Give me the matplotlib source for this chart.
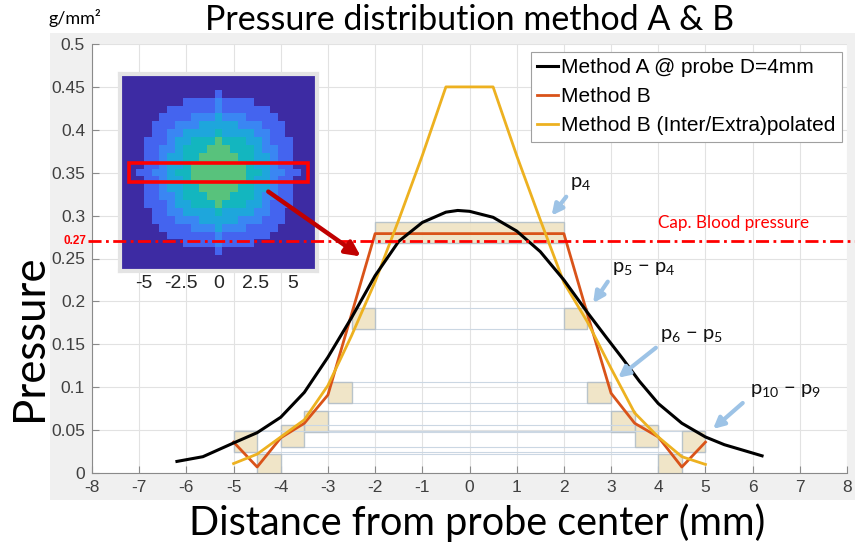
import matplotlib
matplotlib.use('Agg')
import matplotlib.pyplot as plt
from matplotlib.patches import Rectangle
from matplotlib.lines import Line2D
from matplotlib.colors import ListedColormap
import numpy as np

plt.rcParams['axes.unicode_minus'] = False
plt.rcParams['mathtext.fontset'] = 'custom'
plt.rcParams['mathtext.rm'] = 'Lato'
plt.rcParams['mathtext.it'] = 'Lato:italic'

# ---------------- data ----------------
a_x = [-6.2, -5.65, -5, -4.5, -4, -3.5, -3, -2.5, -2, -1.5, -1, -0.5, -0.25, 0,
       0.5, 1, 1.5, 2, 2.5, 2.9, 3.25, 3.6, 4, 4.5, 5, 5.4, 6.2]
a_y = [0.0135, 0.019, 0.035, 0.047, 0.065, 0.094, 0.135, 0.181, 0.23, 0.27, 0.292,
       0.304, 0.306, 0.305, 0.298, 0.282, 0.258, 0.225, 0.187, 0.158, 0.133, 0.107,
       0.081, 0.058, 0.042, 0.033, 0.020]

b_x = [-5, -4.5, -4, -3.5, -3, -2.5, -2, 2, 2.5, 3, 3.5, 4, 4.5, 5]
b_y = [0.036, 0.007, 0.041, 0.058, 0.091, 0.185, 0.279, 0.279, 0.185, 0.093, 0.058,
       0.042, 0.007, 0.036]

bi_x = [-5, -4.5, -4, -3.5, -3, -2.5, -2, -1.5, -1, -0.5, 0.5, 1, 1.5, 2, 2.5,
        3, 3.5, 4, 4.5, 5]
bi_y = [0.011, 0.022, 0.042, 0.062, 0.102, 0.16, 0.223, 0.295, 0.37, 0.45, 0.45,
        0.37, 0.295, 0.222, 0.176, 0.122, 0.07, 0.042, 0.019, 0.010]

ring_r = [2, 2.5, 3, 3.5, 4, 4.5, 5]
ring_p = [0.28, 0.18, 0.094, 0.06, 0.043, 0.01, 0.037]

cap_bp = 0.27

x_ticks = list(range(-8, 9))
y_ticks = [0, 0.05, 0.1, 0.15, 0.2, 0.25, 0.3, 0.35, 0.4, 0.45, 0.5]
y_tick_labels = ['0', '0.05', '0.1', '0.15', '0.2', '0.25', '0.3', '0.35',
                 '0.4', '0.45', '0.5']
inset_ticks = [-5, -2.5, 0, 2.5, 5]
inset_tick_labels = ['-5', '-2.5', '0', '2.5', '5']

inset_rows = [
    "0000000000000000000000000",
    "0000000000000000000000000",
    "0000000000001000000000000",
    "0000000011112111100000000",
    "0000001111112111111000000",
    "0000011112223222111100000",
    "0000111222333332221110000",
    "0000112233334333322110000",
    "0001112334445444332111000",
    "0001122344455544432211000",
    "0001123344555554433211000",
    "0001123345555555433211000",
    "0011223445555555443221100",
    "0001123345555555433211000",
    "0001123344555554433211000",
    "0001122344455544432211000",
    "0001112334445444332111000",
    "0000112233334333322110000",
    "0000111222333332221110000",
    "0000011112223222111100000",
    "0000001111112111111000000",
    "0000000011112111100000000",
    "0000000000001000000000000",
    "0000000000000000000000000",
    "0000000000000000000000000",
]
inset_colors = ['#3d2ba3', '#4464ef', '#3a86f3', '#1ea6dc', '#13b6bf', '#58c27c']

# ---------------- figure ----------------
W, H = 855, 546
fig = plt.figure(figsize=(W / 100, H / 100), dpi=100)
fig.patch.set_facecolor('white')
fig.patches.append(Rectangle((50 / W, (H - 500) / H), (W - 50) / W, (500 - 33) / H,
                             transform=fig.transFigure, facecolor='#f0f0f0',
                             edgecolor='none', zorder=-10))

ax = fig.add_axes([92 / W, 73 / H, 755 / W, 429 / H])
ax.set_facecolor('white')
ax.set_xlim(-8, 8)
ax.set_ylim(0, 0.5)
ax.set_xticks(x_ticks)
ax.set_yticks(y_ticks)
ax.set_yticklabels(y_tick_labels)
ax.grid(True, color='#e2e2e2', lw=0.8, zorder=0)
ax.set_axisbelow(True)
for s in ['top', 'right']:
    ax.spines[s].set_visible(False)
for s in ['left', 'bottom']:
    ax.spines[s].set_color('#8a8a8a')
    ax.spines[s].set_linewidth(0.8)
ax.tick_params(direction='in', length=5, width=0.8, color='#8a8a8a',
               labelcolor='#404040', labelsize=12.5, pad=5)
for lab in ax.get_xticklabels() + ax.get_yticklabels():
    lab.set_fontfamily('Liberation Sans')

# ring boxes
bh = 0.025
for r, p in zip(ring_r, ring_p):
    if r == ring_r[0]:
        ax.add_patch(Rectangle((-r, p - bh / 2), 2 * r, bh, facecolor='#efe3c2',
                               edgecolor='#b3bfc8', lw=1.0, alpha=0.9, zorder=1))
    else:
        ax.add_patch(Rectangle((-r, p - bh / 2), 2 * r, bh, facecolor='none',
                               edgecolor='#cbd7e3', lw=0.8, zorder=1))
        for x0 in (-r, r - 0.5):
            ax.add_patch(Rectangle((x0, p - bh / 2), 0.5, bh, facecolor='#efe3c2',
                                   edgecolor='#b3bfc8', lw=1.0, alpha=0.9, zorder=1))

ax.plot(a_x, a_y, color='black', lw=2.2, zorder=4, label='Method A @ probe D=4mm',
        solid_joinstyle='round')
ax.plot(b_x, b_y, color='#d95319', lw=2.0, zorder=3, label='Method B')
ax.plot(bi_x, bi_y, color='#edb120', lw=2.0, zorder=3,
        label='Method B (Inter/Extra)polated', solid_joinstyle='round')

leg = ax.legend(loc='upper right', bbox_to_anchor=(0.993, 0.981),
                prop={'family': 'Liberation Sans', 'size': 15}, frameon=True,
                fancybox=False, edgecolor='#a0a0a0', framealpha=1,
                handlelength=1.0, handletextpad=0.15, borderpad=0.3,
                labelspacing=0.48, borderaxespad=0)
leg.get_frame().set_linewidth(0.8)
leg.set_zorder(10)

# annotations
ann_col = '#9dc3e6'
ann = [
    (r'p$_4$', (2.13, 0.337), (2.05, 0.322), (1.74, 0.300)),
    (r'p$_5$ $-$ p$_4$', (3.01, 0.238), (2.93, 0.223), (2.62, 0.198)),
    (r'p$_6$ $-$ p$_5$', (4.04, 0.160), (3.95, 0.146), (3.15, 0.111)),
    (r'p$_{10}$ $-$ p$_9$', (5.94, 0.0956), (5.79, 0.0816), (5.16, 0.0513)),
]
for txt, tpos, a0, a1 in ann:
    ax.text(tpos[0], tpos[1], txt, fontsize=14.5, family='Lato', ha='left',
            va='center', color='#111111', zorder=6)
    ax.annotate('', xy=a1, xytext=a0,
                arrowprops=dict(arrowstyle='-|>', color=ann_col, lw=3,
                                mutation_scale=16, shrinkA=0, shrinkB=0),
                zorder=6)

ax.text(3.99, 0.291, 'Cap. Blood pressure', color='red', fontsize=12.3,
        family='Lato', ha='left', va='center', zorder=6)
ax.text(-8.12, cap_bp, '0.27', color='red', fontsize=8.5, fontweight='bold',
        family='Liberation Sans', ha='right', va='center', clip_on=False)

# ---------------- inset ----------------
img = np.array([[int(c) for c in row] for row in inset_rows])
ext = 6.6
iax = fig.add_axes([120 / W, (H - 271) / H, 197 / W, 197 / H])
iax.imshow(img, cmap=ListedColormap(inset_colors), vmin=-0.5, vmax=5.5,
           extent=(-ext, ext, -ext, ext), interpolation='nearest', aspect='auto')
iax.set_xlim(-ext, ext)
iax.set_ylim(-ext, ext)
iax.set_xticks(inset_ticks)
iax.set_xticklabels(inset_tick_labels)
iax.set_yticks([])
iax.tick_params(length=0, labelsize=14, labelcolor='#262626', pad=3)
for lab in iax.get_xticklabels():
    lab.set_fontfamily('Liberation Sans')
for s in iax.spines.values():
    s.set_color('#e4e4e4')
    s.set_linewidth(3)
iax.add_patch(Rectangle((-6.0, -0.65), 12.0, 1.3, facecolor='none',
                        edgecolor='#ff0000', lw=2.6, zorder=5))

# cap blood pressure line drawn above everything (crosses inset)
cap_line = Line2D([-8.08, 8.25], [cap_bp, cap_bp], color='#ff0000', lw=2.0,
                  linestyle=(0, (4.7, 1.6, 1.0, 1.6)), transform=ax.transData,
                  zorder=20)
fig.add_artist(cap_line)

# dark red arrow from inset to method B curve
fig.add_artist(matplotlib.patches.FancyArrowPatch(
    (266, H - 190), (363, H - 258), transform=None, arrowstyle='-|>',
    mutation_scale=22, color='#c00000', lw=3.2, zorder=21))

# ---------------- texts ----------------
fig.text(470 / W, 1 - 20 / H, 'Pressure distribution method A & B', family='Lato',
         fontsize=24.5, ha='center', va='center', color='black')
fig.text(477 / W, 1 - 523 / H, 'Distance from probe center (mm)', family='Lato',
         fontsize=28.5, ha='center', va='center', color='black')
fig.text(30 / W, 1 - 338 / H, 'Pressure', family='Lato', fontsize=31.5,
         rotation=90, ha='center', va='center', color='black')
fig.text(48 / W, 1 - 18 / H, 'g/mm²', family='Lato', fontsize=13,
         ha='left', va='center', color='black')

fig.savefig('out.png', dpi=100)
